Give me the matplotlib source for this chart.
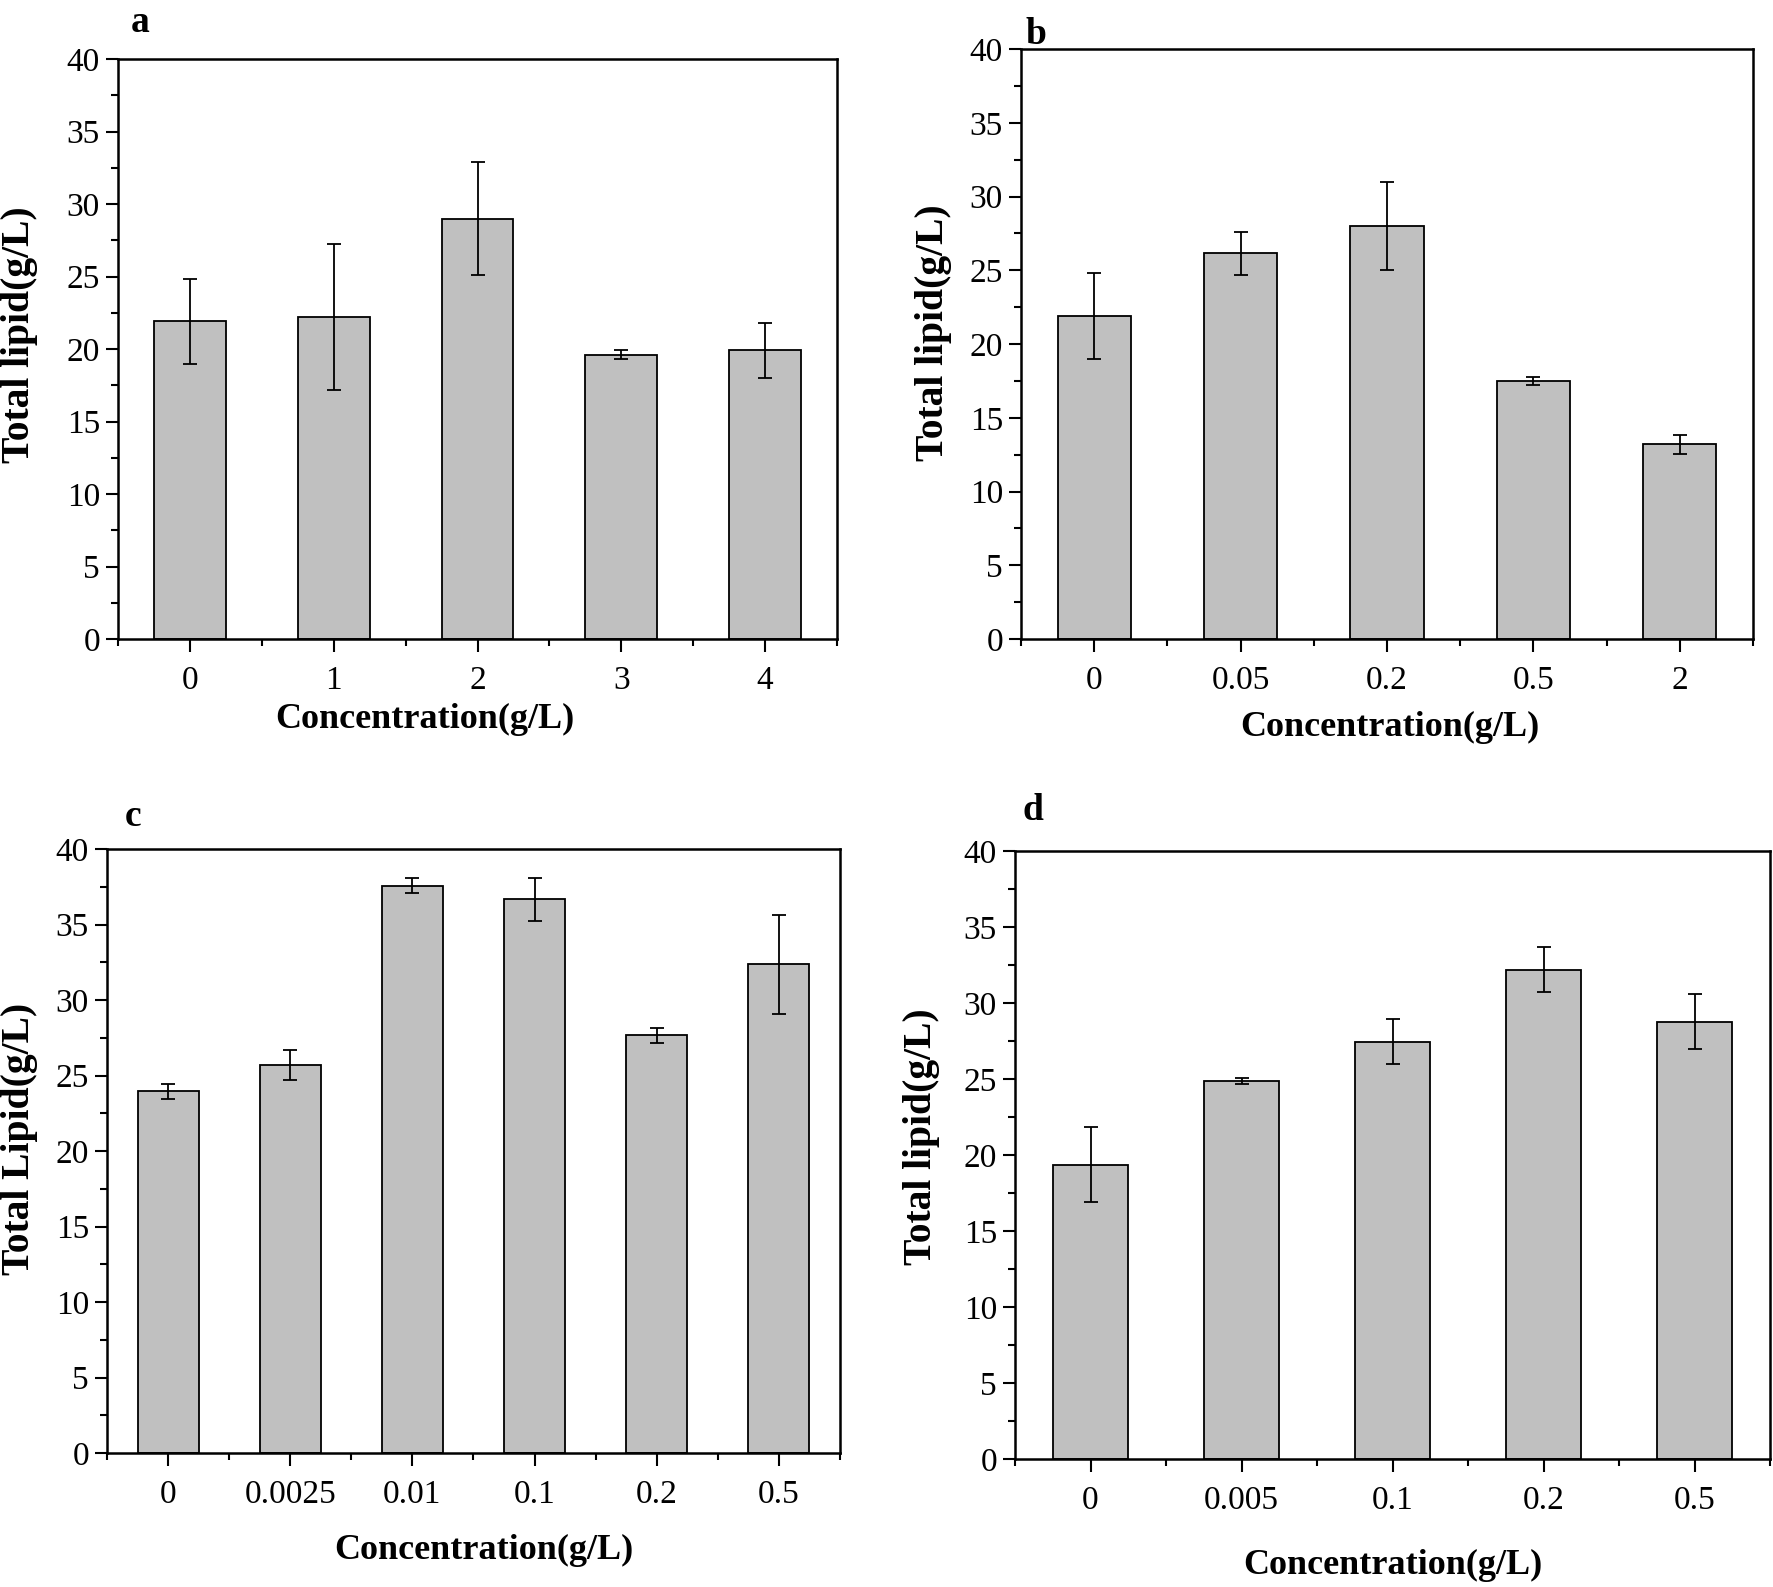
import numpy as np
import matplotlib
matplotlib.use('Agg')
import matplotlib.pyplot as plt
from matplotlib.ticker import MultipleLocator, FixedLocator

plt.rcParams['font.family'] = ['Liberation Serif', 'DejaVu Serif']

# data
a_labels = ['0', '1', '2', '3', '4']
a_values = [21.9, 22.2, 29.0, 19.6, 19.9]
a_errors = [2.9, 5.05, 3.9, 0.3, 1.9]

b_labels = ['0', '0.05', '0.2', '0.5', '2']
b_values = [21.9, 26.15, 28.0, 17.48, 13.19]
b_errors = [2.9, 1.47, 3.0, 0.28, 0.65]

c_labels = ['0', '0.0025', '0.01', '0.1', '0.2', '0.5']
c_values = [23.95, 25.72, 37.58, 36.66, 27.67, 32.37]
c_errors = [0.52, 1.0, 0.52, 1.45, 0.5, 3.27]

d_labels = ['0', '0.005', '0.1', '0.2', '0.5']
d_values = [19.36, 24.85, 27.46, 32.2, 28.78]
d_errors = [2.47, 0.19, 1.49, 1.49, 1.8]

W, H = 1773, 1587
fig = plt.figure(figsize=(W / 100, H / 100), dpi=100)


def px_box(left, top, right, bottom):
    return [left / W, 1 - bottom / H, (right - left) / W, (bottom - top) / H]


def draw_panel(box, labels, values, errors, ylabel, letter, letter_xy, xlabel_xy, ylabel_xy):
    ax = fig.add_axes(px_box(*box))
    x = np.arange(len(values))
    ax.bar(x, values, width=0.5, color='#c0c0c0', edgecolor='black', linewidth=1.3, zorder=2)
    ax.errorbar(x, values, yerr=errors, fmt='none', ecolor='black', elinewidth=1.3,
                capsize=5, capthick=1.3, zorder=3)
    ax.set_xlim(-0.5, len(values) - 0.5)
    ax.set_ylim(0, 40)
    ax.set_xticks(x)
    ax.set_xticklabels(labels)
    ax.xaxis.set_minor_locator(FixedLocator(np.arange(-0.5, len(values), 1.0)))
    ax.yaxis.set_major_locator(MultipleLocator(5))
    ax.yaxis.set_minor_locator(MultipleLocator(2.5))
    ax.tick_params(which='major', direction='out', length=9, width=1.5, labelsize=24, pad=10)
    ax.tick_params(which='minor', direction='out', length=5, width=1.5)
    ax.tick_params(axis='y', which='major', pad=4)
    for s in ax.spines.values():
        s.set_linewidth(1.8)

    # labels placed in pixel coordinates
    fig.text(letter_xy[0] / W, 1 - letter_xy[1] / H, letter, fontsize=27, fontweight='bold',
             ha='center', va='center')
    fig.text(xlabel_xy[0] / W, 1 - xlabel_xy[1] / H, 'Concentration(g/L)', fontsize=26,
             fontweight='bold', ha='center', va='center')
    fig.text(ylabel_xy[0] / W, 1 - ylabel_xy[1] / H, ylabel, fontsize=28.5, fontweight='bold',
             ha='center', va='center', rotation=90)
    return ax


draw_panel((118, 59, 837, 639), a_labels, a_values, a_errors, 'Total lipid(g/L)',
           'a', (140, 23), (425, 719), (20, 335))
draw_panel((1021, 49, 1753, 639), b_labels, b_values, b_errors, 'Total lipid(g/L)',
           'b', (1036, 34), (1390, 727), (934, 333))
draw_panel((107, 849, 840, 1453), c_labels, c_values, c_errors, 'Total Lipid(g/L)',
           'c', (133, 816), (484, 1550), (20, 1139))
draw_panel((1015, 851, 1770, 1459), d_labels, d_values, d_errors, 'Total lipid(g/L)',
           'd', (1033, 811), (1393, 1565), (922, 1137))

fig.savefig('out.png', dpi=100)
